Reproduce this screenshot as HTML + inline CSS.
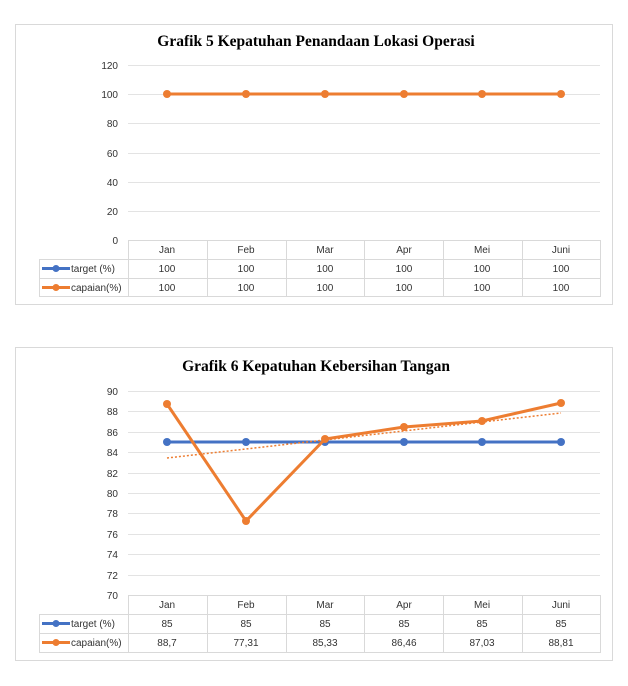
<!DOCTYPE html>
<html><head><style>
body{margin:0;background:#fff;width:628px;height:681px;overflow:hidden}
svg{font-family:"Liberation Sans",sans-serif}
.t{font-family:"Liberation Serif",serif;font-weight:bold;font-size:15.5px}
.a{font-size:10px;fill:#333}
</style></head><body>
<svg width="628" height="681" viewBox="0 0 628 681">
<rect x="0" y="0" width="628" height="681" fill="#fff"/>
<!-- Chart 1 -->
<rect x="15.5" y="24.5" width="597" height="280" fill="#fff" stroke="#d9d9d9"/>
<text class="t" x="316" y="46" text-anchor="middle">Grafik 5 Kepatuhan Penandaan Lokasi Operasi</text>
<g stroke="#e3e3e3" stroke-width="1">
<line x1="128" y1="65.5" x2="600" y2="65.5"/><line x1="128" y1="94.5" x2="600" y2="94.5"/>
<line x1="128" y1="123.5" x2="600" y2="123.5"/><line x1="128" y1="153.5" x2="600" y2="153.5"/>
<line x1="128" y1="182.5" x2="600" y2="182.5"/><line x1="128" y1="211.5" x2="600" y2="211.5"/>
</g>
<g class="a" text-anchor="end">
<text x="118" y="69">120</text><text x="118" y="98">100</text><text x="118" y="127">80</text>
<text x="118" y="157">60</text><text x="118" y="186">40</text><text x="118" y="215">20</text><text x="118" y="244">0</text>
</g>
<polyline points="167,94 246,94 325,94 404,94 482,94 561,94" fill="none" stroke="#ed7d31" stroke-width="3"/>
<g fill="#ed7d31"><circle cx="167" cy="94" r="4"/><circle cx="246" cy="94" r="4"/><circle cx="325" cy="94" r="4"/><circle cx="404" cy="94" r="4"/><circle cx="482" cy="94" r="4"/><circle cx="561" cy="94" r="4"/></g>
<g stroke="#d9d9d9" fill="none">
<rect x="128.5" y="240.5" width="472" height="56"/>
<rect x="39.5" y="259.5" width="89" height="37"/>
<line x1="39" y1="278.5" x2="600" y2="278.5"/><line x1="39" y1="259.5" x2="600" y2="259.5"/>
<line x1="207.5" y1="240" x2="207.5" y2="297"/><line x1="286.5" y1="240" x2="286.5" y2="297"/>
<line x1="364.5" y1="240" x2="364.5" y2="297"/><line x1="443.5" y1="240" x2="443.5" y2="297"/>
<line x1="522.5" y1="240" x2="522.5" y2="297"/>
</g>
<g class="a" text-anchor="middle">
<text x="167" y="253">Jan</text><text x="246" y="253">Feb</text><text x="325" y="253">Mar</text><text x="404" y="253">Apr</text><text x="482" y="253">Mei</text><text x="561" y="253">Juni</text>
<text x="167" y="272">100</text><text x="246" y="272">100</text><text x="325" y="272">100</text><text x="404" y="272">100</text><text x="482" y="272">100</text><text x="561" y="272">100</text>
<text x="167" y="291">100</text><text x="246" y="291">100</text><text x="325" y="291">100</text><text x="404" y="291">100</text><text x="482" y="291">100</text><text x="561" y="291">100</text>
</g>
<line x1="42" y1="268.5" x2="70" y2="268.5" stroke="#4472c4" stroke-width="3"/><circle cx="56" cy="268.5" r="3.5" fill="#4472c4"/>
<line x1="42" y1="287.5" x2="70" y2="287.5" stroke="#ed7d31" stroke-width="3"/><circle cx="56" cy="287.5" r="3.5" fill="#ed7d31"/>
<text class="a" x="71" y="272">target (%)</text><text class="a" x="71" y="291">capaian(%)</text>

<!-- Chart 2 -->
<rect x="15.5" y="347.5" width="597" height="313" fill="#fff" stroke="#d9d9d9"/>
<text class="t" x="316" y="371" text-anchor="middle">Grafik 6 Kepatuhan Kebersihan Tangan</text>
<g stroke="#e3e3e3">
<line x1="128" y1="391.5" x2="600" y2="391.5"/><line x1="128" y1="411.5" x2="600" y2="411.5"/>
<line x1="128" y1="432.5" x2="600" y2="432.5"/><line x1="128" y1="452.5" x2="600" y2="452.5"/>
<line x1="128" y1="473.5" x2="600" y2="473.5"/><line x1="128" y1="493.5" x2="600" y2="493.5"/>
<line x1="128" y1="513.5" x2="600" y2="513.5"/><line x1="128" y1="534.5" x2="600" y2="534.5"/>
<line x1="128" y1="554.5" x2="600" y2="554.5"/><line x1="128" y1="575.5" x2="600" y2="575.5"/>
</g>
<g class="a" text-anchor="end">
<text x="118" y="395">90</text><text x="118" y="415">88</text><text x="118" y="436">86</text><text x="118" y="456">84</text>
<text x="118" y="477">82</text><text x="118" y="497">80</text><text x="118" y="517">78</text><text x="118" y="538">76</text>
<text x="118" y="558">74</text><text x="118" y="579">72</text><text x="118" y="599">70</text>
</g>
<polyline points="167,442 246,442 325,442 404,442 482,442 561,442" fill="none" stroke="#4472c4" stroke-width="3"/>
<g fill="#4472c4"><circle cx="167" cy="442" r="4"/><circle cx="246" cy="442" r="4"/><circle cx="325" cy="442" r="4"/><circle cx="404" cy="442" r="4"/><circle cx="482" cy="442" r="4"/><circle cx="561" cy="442" r="4"/></g>
<line x1="167" y1="458" x2="561" y2="413" stroke="#ed7d31" stroke-width="1.5" stroke-dasharray="2,2"/>
<polyline points="167,404 246,521 325,439 404,427 482,421 561,403" fill="none" stroke="#ed7d31" stroke-width="3"/>
<g fill="#ed7d31"><circle cx="167" cy="404" r="4"/><circle cx="246" cy="521" r="4"/><circle cx="325" cy="439" r="4"/><circle cx="404" cy="427" r="4"/><circle cx="482" cy="421" r="4"/><circle cx="561" cy="403" r="4"/></g>
<g stroke="#d9d9d9" fill="none">
<rect x="128.5" y="595.5" width="472" height="57"/>
<rect x="39.5" y="614.5" width="89" height="38"/>
<line x1="39" y1="614.5" x2="600" y2="614.5"/><line x1="39" y1="633.5" x2="600" y2="633.5"/>
<line x1="207.5" y1="595" x2="207.5" y2="653"/><line x1="286.5" y1="595" x2="286.5" y2="653"/>
<line x1="364.5" y1="595" x2="364.5" y2="653"/><line x1="443.5" y1="595" x2="443.5" y2="653"/>
<line x1="522.5" y1="595" x2="522.5" y2="653"/>
</g>
<g class="a" text-anchor="middle">
<text x="167" y="608">Jan</text><text x="246" y="608">Feb</text><text x="325" y="608">Mar</text><text x="404" y="608">Apr</text><text x="482" y="608">Mei</text><text x="561" y="608">Juni</text>
<text x="167" y="627">85</text><text x="246" y="627">85</text><text x="325" y="627">85</text><text x="404" y="627">85</text><text x="482" y="627">85</text><text x="561" y="627">85</text>
<text x="167" y="646">88,7</text><text x="246" y="646">77,31</text><text x="325" y="646">85,33</text><text x="404" y="646">86,46</text><text x="482" y="646">87,03</text><text x="561" y="646">88,81</text>
</g>
<line x1="42" y1="623.5" x2="70" y2="623.5" stroke="#4472c4" stroke-width="3"/><circle cx="56" cy="623.5" r="3.5" fill="#4472c4"/>
<line x1="42" y1="642.5" x2="70" y2="642.5" stroke="#ed7d31" stroke-width="3"/><circle cx="56" cy="642.5" r="3.5" fill="#ed7d31"/>
<text class="a" x="71" y="627">target (%)</text><text class="a" x="71" y="646">capaian(%)</text>
</svg>
</body></html>
